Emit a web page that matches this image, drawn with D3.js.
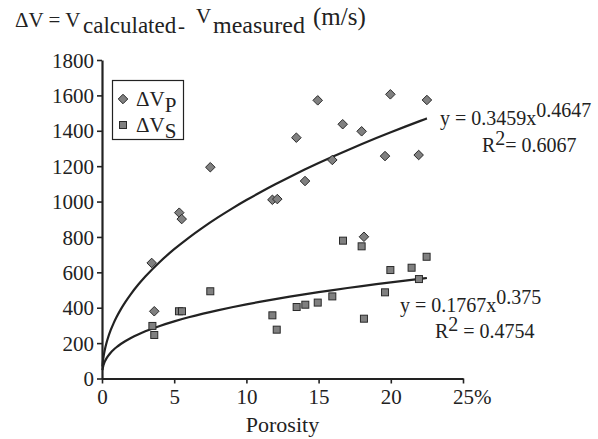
<!DOCTYPE html>
<html>
<head>
<meta charset="utf-8">
<script src="https://cdn.jsdelivr.net/npm/d3@7"></script>
<style>
  html, body { margin: 0; padding: 0; background: #fff; }
  svg text { fill: #222; }
</style>
</head>
<body>
<svg id="chart" width="598" height="439"></svg>
<script>
// Porosity (%) and velocity differences (m/s) for P and S waves
const porosityP = [3.44, 3.62, 5.35, 5.52, 7.5, 11.8, 12.14, 13.46, 14.06, 14.94, 15.95, 16.67, 17.98, 18.14, 19.6, 19.97, 21.93, 22.5];
const deltaVP   = [653, 380, 937, 901, 1194, 1010, 1014, 1361, 1116, 1572, 1235, 1437, 1397, 801, 1257, 1606, 1263, 1574];

const porosityS = [3.49, 3.62, 5.33, 5.54, 7.5, 11.8, 12.1, 13.48, 14.08, 14.94, 15.95, 16.69, 17.98, 18.14, 19.6, 19.97, 21.44, 21.95, 22.48];
const deltaVS   = [297, 246, 380, 380, 493, 357, 276, 404, 417, 429, 464, 779, 747, 338, 487, 613, 626, 562, 688];

// Power-law fits y = a·x^b (a in km/s)
const fitP = { a: 0.3459, b: 0.4647, r2: "0.6067" };
const fitS = { a: 0.1767, b: 0.375, r2: "0.4754" };

const xTicks = [0, 5, 10, 15, 20, 25];
const yTicks = [0, 200, 400, 600, 800, 1000, 1200, 1400, 1600, 1800];

const svg = d3.select("#chart");
const FS = 21;
const FONT = "Liberation Serif";

const x = d3.scaleLinear().domain([0, 25]).range([102, 463]);
const y = d3.scaleLinear().domain([0, 1800]).range([378.5, 60]);

// Axes
const xAxis = svg.append("g")
  .attr("transform", `translate(0,${y(0)})`)
  .call(d3.axisBottom(x).tickValues(xTicks).tickFormat(d3.format("d"))
    .tickSize(5).tickPadding(6).tickSizeOuter(0));
const yAxis = svg.append("g")
  .attr("transform", `translate(${x(0)},0)`)
  .call(d3.axisLeft(y).tickValues(yTicks).tickFormat(d3.format("d"))
    .tickSize(5).tickPadding(3).tickSizeOuter(0));

[xAxis, yAxis].forEach(g => {
  g.attr("font-family", FONT).attr("font-size", FS);
  g.select(".domain").attr("stroke", "#222").attr("stroke-width", 2.2);
  g.selectAll(".tick line").attr("stroke", "#222").attr("stroke-width", 1.6);
  g.selectAll(".tick text").attr("fill", "#222");
});
yAxis.selectAll(".tick text").attr("dy", "0.34em");

// Last x tick reads "25%" with the number centred on its tick
xAxis.selectAll(".tick text").filter(d => d === 25).each(function () {
  const t = d3.select(this);
  const w = this.getComputedTextLength();
  t.attr("text-anchor", "start").attr("x", -w / 2).text("25%");
});

// Axis title
svg.append("text").attr("x", x(12.5)).attr("y", 432).attr("font-family", FONT)
  .attr("text-anchor", "middle").attr("font-size", 22).text("Porosity");

// Chart title: ΔV = V_calculated - V_measured (m/s)
const title = svg.append("text").attr("font-family", FONT).attr("font-size", FS);
title.append("tspan").attr("x", 15).attr("y", 27).text("ΔV = V");
title.append("tspan").attr("x", 83).attr("y", 33).attr("font-size", 23).text("calculated");
title.append("tspan").attr("x", 178).attr("y", 33).text("-");
title.append("tspan").attr("x", 196).attr("y", 23).text("V");
title.append("tspan").attr("x", 213).attr("y", 33).attr("font-size", 24).text("measured");
title.append("tspan").attr("x", 313).attr("y", 25).attr("font-size", 25).text("(m/s)");

// Trend curves
function curvePoints(fit) {
  const xs = [0.03, 0.06, 0.1, 0.15, 0.2, 0.3, 0.4, 0.6, 0.8, 1, 1.3, 1.6, 2, 2.5, 3, 4, 5, 6, 7, 8, 9, 10, 11, 12, 13, 14, 15, 16, 17, 18, 19, 20, 21, 22, 22.5];
  return xs.map(v => [v, fit.a * 1000 * Math.pow(v, fit.b)]);
}
const line = d3.line().x(d => x(d[0])).y(d => y(d[1])).curve(d3.curveMonotoneX);
[fitP, fitS].forEach(fit => {
  svg.append("path").attr("d", line(curvePoints(fit)))
    .attr("fill", "none").attr("stroke", "#222").attr("stroke-width", 2.2);
});

// Markers
const fillC = "#808080", strokeC = "#2a2a2a";
const diamond = d3.symbol().type(d3.symbolDiamond2).size(58);
svg.append("g").selectAll("path").data(d3.zip(porosityP, deltaVP)).join("path")
  .attr("transform", d => `translate(${x(d[0])},${y(d[1])})`)
  .attr("d", diamond).attr("fill", fillC).attr("stroke", strokeC).attr("stroke-width", 1);

const sq = 7;
svg.append("g").selectAll("rect").data(d3.zip(porosityS, deltaVS)).join("rect")
  .attr("x", d => x(d[0]) - sq / 2).attr("y", d => y(d[1]) - sq / 2)
  .attr("width", sq).attr("height", sq)
  .attr("fill", fillC).attr("stroke", strokeC).attr("stroke-width", 1);

// Legend
const lg = svg.append("g").attr("font-family", FONT);
lg.append("rect").attr("x", 112.5).attr("y", 80.5).attr("width", 71).attr("height", 59)
  .attr("fill", "#fff").attr("stroke", "#222").attr("stroke-width", 1.2);
lg.append("path").attr("transform", "translate(123,99)").attr("d", diamond)
  .attr("fill", fillC).attr("stroke", strokeC);
lg.append("rect").attr("x", 119.5).attr("y", 121.5).attr("width", sq).attr("height", sq)
  .attr("fill", fillC).attr("stroke", strokeC);
const lp = lg.append("text").attr("x", 136).attr("y", 106).attr("font-size", FS);
lp.append("tspan").text("ΔV");
lp.append("tspan").attr("y", 112).text("P");
const ls = lg.append("text").attr("x", 136).attr("y", 132).attr("font-size", FS);
ls.append("tspan").text("ΔV");
ls.append("tspan").attr("y", 138).text("S");

// Fit equations
function equation(fit, x0, y0, rx, ry, rGap) {
  const t = svg.append("text").attr("x", x0).attr("y", y0).attr("font-size", 20).attr("font-family", FONT);
  t.append("tspan").text(`y = ${fit.a}x`);
  t.append("tspan").attr("y", y0 - 8).text(String(fit.b));
  const r = svg.append("text").attr("x", rx).attr("y", ry).attr("font-size", 20).attr("font-family", FONT);
  r.append("tspan").text("R");
  r.append("tspan").attr("y", ry - 7).text("2");
  r.append("tspan").attr("y", ry).text(`${rGap}= ${fit.r2}`);
}
equation(fitP, 440, 125, 482, 152, "");
equation(fitS, 400, 312, 435, 338, " ");
</script>
</body>
</html>
